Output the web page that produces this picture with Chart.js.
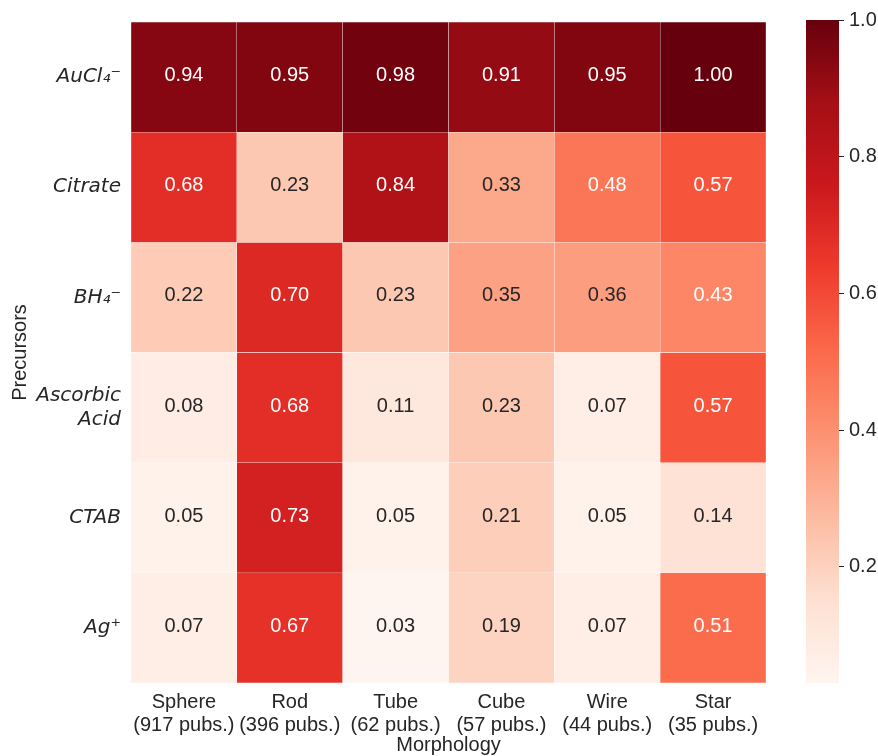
<!DOCTYPE html>
<html>
<head>
<meta charset="utf-8">
<script src="https://cdn.jsdelivr.net/npm/chart.js@4.4.1/dist/chart.umd.min.js"></script>
<style>
  body { margin: 0; background: #fff; }
  #wrap { position: relative; width: 878px; height: 756px; }
  #heatmap { position: absolute; left: 0; top: 0; }
  #colorbar { position: absolute; left: 790px; top: 0; }
</style>
</head>
<body>
<div id="wrap">
  <canvas id="heatmap" width="878" height="756"></canvas>
  <canvas id="colorbar" width="88" height="756"></canvas>
</div>
<script>
// categories
const morphologies = [
  ["Sphere", "(917 pubs.)"],
  ["Rod", "(396 pubs.)"],
  ["Tube", "(62 pubs.)"],
  ["Cube", "(57 pubs.)"],
  ["Wire", "(44 pubs.)"],
  ["Star", "(35 pubs.)"],
];
const precursors = ["AuCl₄⁻", "Citrate", "BH₄⁻", ["Ascorbic", "Acid"], "CTAB", "Ag⁺"];

// values, one row per precursor
const auCl4 = [0.94, 0.95, 0.98, 0.91, 0.95, 1.00];
const citrate = [0.68, 0.23, 0.84, 0.33, 0.48, 0.57];
const bh4 = [0.22, 0.70, 0.23, 0.35, 0.36, 0.43];
const ascorbic = [0.08, 0.68, 0.11, 0.23, 0.07, 0.57];
const ctab = [0.05, 0.73, 0.05, 0.21, 0.05, 0.14];
const agPlus = [0.07, 0.67, 0.03, 0.19, 0.07, 0.51];
const rows = [auCl4, citrate, bh4, ascorbic, ctab, agPlus];

const colorbarTicks = [0.2, 0.4, 0.6, 0.8, 1.0];

const allValues = rows.flat();
const vmin = Math.min(...allValues);
const vmax = Math.max(...allValues);

// matplotlib "Reds"
const redsStops = ["#fff5f0", "#fee0d2", "#fcbba1", "#fc9272", "#fb6a4a", "#ef3b2c", "#cb181d", "#a50f15", "#67000d"];
const TEXT = "#262626";

function hexToRgb(h) {
  return [1, 3, 5].map(i => parseInt(h.substr(i, 2), 16));
}

function redsRgb(t) {
  t = Math.min(1, Math.max(0, t));
  const s = t * (redsStops.length - 1);
  const i = Math.min(Math.floor(s), redsStops.length - 2);
  const f = s - i;
  const a = hexToRgb(redsStops[i]), b = hexToRgb(redsStops[i + 1]);
  return a.map((c, k) => Math.round(c + (b[k] - c) * f));
}

function cellColor(v) {
  const c = redsRgb((v - vmin) / (vmax - vmin));
  return `rgb(${c[0]},${c[1]},${c[2]})`;
}

// same rule seaborn uses to pick annotation colour
function textColor(v) {
  const lin = redsRgb((v - vmin) / (vmax - vmin)).map(c => {
    c = c / 255;
    return c <= 0.03928 ? c / 12.92 : Math.pow((c + 0.055) / 1.055, 2.4);
  });
  const lum = 0.2126 * lin[0] + 0.7152 * lin[1] + 0.0722 * lin[2];
  return lum > 0.408 ? TEXT : "#ffffff";
}

const cellLabels = {
  id: "cellLabels",
  afterDatasetsDraw(chart) {
    const ctx = chart.ctx;
    ctx.save();
    ctx.font = '20px "Liberation Sans", Arial, sans-serif';
    ctx.textAlign = "center";
    ctx.textBaseline = "middle";
    rows.forEach((row, r) => {
      chart.getDatasetMeta(r).data.forEach((bar, c) => {
        ctx.fillStyle = textColor(row[c]);
        ctx.fillText(row[c].toFixed(2), bar.x, (bar.y + bar.base) / 2 - 1.5);
      });
    });
    ctx.restore();
  },
};

new Chart(document.getElementById("heatmap"), {
  type: "bar",
  data: {
    labels: morphologies,
    datasets: rows.map((row, r) => ({
      data: row.map(() => [r, r + 1]),
      backgroundColor: row.map(cellColor),
      borderColor: "rgba(255,255,255,0.35)",
      borderWidth: 0.5,
      borderSkipped: false,
      barPercentage: 1,
      categoryPercentage: 1,
    })),
  },
  options: {
    responsive: false,
    animation: false,
    devicePixelRatio: 1,
    layout: { padding: { top: 20, right: 112, left: 0, bottom: 0 } },
    plugins: {
      legend: { display: false },
      tooltip: { enabled: false },
    },
    scales: {
      x: {
        stacked: true,
        grid: { display: false, drawTicks: false },
        border: { display: false },
        ticks: {
          color: TEXT,
          padding: 8,
          maxRotation: 0,
          font: { family: '"Liberation Sans", Arial, sans-serif', size: 20, lineHeight: 1.15 },
        },
        title: {
          display: true,
          text: "Morphology",
          color: TEXT,
          padding: 0,
          font: { family: '"Liberation Sans", Arial, sans-serif', size: 20, lineHeight: 1.1 },
        },
        afterFit(scale) { scale.height = 73; },
      },
      y: {
        type: "linear",
        min: 0,
        max: rows.length,
        reverse: true,
        grid: { display: false, drawTicks: false },
        border: { display: false },
        afterBuildTicks(scale) {
          scale.ticks = precursors.map((_, i) => ({ value: i + 0.5 }));
        },
        ticks: {
          color: TEXT,
          padding: 10,
          font: { family: '"DejaVu Sans", sans-serif', size: 20, style: "italic", lineHeight: 1.2 },
          callback: (v) => precursors[Math.floor(v)],
        },
        title: {
          display: true,
          text: "Precursors",
          color: TEXT,
          padding: { top: 8 },
          font: { family: '"Liberation Sans", Arial, sans-serif', size: 20, lineHeight: 1.2 },
        },
        afterFit(scale) { scale.width = 131; },
      },
    },
  },
  plugins: [cellLabels],
});

// colour bar
new Chart(document.getElementById("colorbar"), {
  type: "bar",
  data: {
    labels: [""],
    datasets: [{
      data: [[vmin, vmax]],
      barPercentage: 1,
      categoryPercentage: 1,
      borderWidth: 0,
      backgroundColor(c) {
        const area = c.chart.chartArea;
        if (!area) return cellColor((vmin + vmax) / 2);
        const g = c.chart.ctx.createLinearGradient(0, area.bottom, 0, area.top);
        redsStops.forEach((col, i) => g.addColorStop(i / (redsStops.length - 1), col));
        return g;
      },
    }],
  },
  options: {
    responsive: false,
    animation: false,
    devicePixelRatio: 1,
    layout: { padding: { top: 20, bottom: 73, left: 16, right: 0 } },
    plugins: {
      legend: { display: false },
      tooltip: { enabled: false },
    },
    scales: {
      x: { display: false },
      y: {
        position: "right",
        min: vmin,
        max: vmax,
        border: { display: false },
        grid: {
          drawOnChartArea: false,
          drawTicks: true,
          tickLength: 5,
          color: TEXT,
          lineWidth: 1,
        },
        afterBuildTicks(scale) {
          scale.ticks = colorbarTicks.map(v => ({ value: v }));
        },
        ticks: {
          color: TEXT,
          padding: 5,
          font: { family: '"Liberation Sans", Arial, sans-serif', size: 20 },
          callback: (v) => v.toFixed(1),
        },
        afterFit(scale) { scale.width = 39; },
      },
    },
  },
});
</script>
</body>
</html>
